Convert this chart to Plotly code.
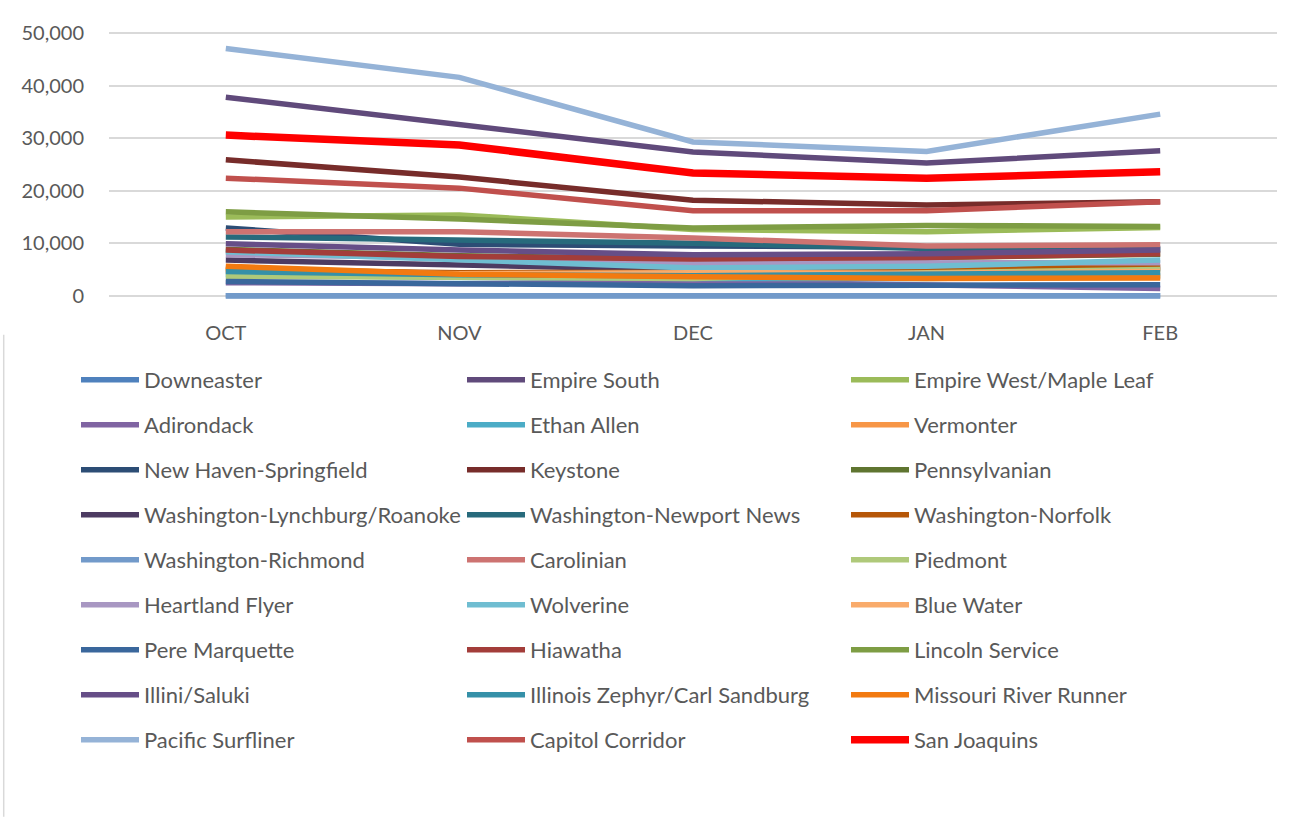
import plotly.graph_objects as go

months = ["OCT", "NOV", "DEC", "JAN", "FEB"]

series_names = [
    "Downeaster", "Empire South", "Empire West/Maple Leaf",
    "Adirondack", "Ethan Allen", "Vermonter",
    "New Haven-Springfield", "Keystone", "Pennsylvanian",
    "Washington-Lynchburg/Roanoke", "Washington-Newport News", "Washington-Norfolk",
    "Washington-Richmond", "Carolinian", "Piedmont",
    "Heartland Flyer", "Wolverine", "Blue Water",
    "Pere Marquette", "Hiawatha", "Lincoln Service",
    "Illini/Saluki", "Illinois Zephyr/Carl Sandburg", "Missouri River Runner",
    "Pacific Surfliner", "Capitol Corridor", "San Joaquins",
]

downeaster = [0, 0, 0, 0, 0]
empire_south = [37800, 32700, 27400, 25300, 27600]
empire_west = [15000, 15400, 12600, 12200, 13000]
adirondack = [2500, 2300, 2700, 2000, 1400]
ethan_allen = [4000, 3500, 3300, 3300, 3800]
vermonter = [5300, 4200, 3900, 3500, 3600]
new_haven = [12900, 9800, 9500, 9200, 9000]
keystone = [25900, 22600, 18200, 17300, 17900]
pennsylvanian = [8800, 7600, 7100, 7300, 7900]
wash_lynchburg = [6800, 5800, 4900, 4800, 5300]
wash_newport = [11200, 10600, 10000, 9000, 8800]
wash_norfolk = [5000, 4400, 4500, 5200, 5500]
wash_richmond = [0, 0, 0, 0, 0]
carolinian = [12200, 12200, 11000, 9500, 9700]
piedmont = [3700, 3600, 3300, 4400, 5000]
heartland = [7800, 7300, 6200, 6300, 6300]
wolverine = [8400, 6800, 5300, 5600, 6800]
blue_water = [4800, 4200, 4400, 4300, 4600]
pere_marquette = [2700, 2300, 1900, 2000, 2100]
hiawatha = [8700, 7500, 7000, 7300, 8000]
lincoln = [16000, 14600, 12900, 13400, 13200]
illini = [9900, 8700, 7800, 8000, 8700]
illinois_zephyr = [4600, 4000, 3800, 4000, 4400]
missouri = [5600, 4100, 3600, 3300, 3400]
pacific = [47100, 41600, 29300, 27500, 34600]
capitol = [22400, 20500, 16200, 16200, 17900]
san_joaquins = [30600, 28700, 23400, 22400, 23600]

series_values = [
    downeaster, empire_south, empire_west,
    adirondack, ethan_allen, vermonter,
    new_haven, keystone, pennsylvanian,
    wash_lynchburg, wash_newport, wash_norfolk,
    wash_richmond, carolinian, piedmont,
    heartland, wolverine, blue_water,
    pere_marquette, hiawatha, lincoln,
    illini, illinois_zephyr, missouri,
    pacific, capitol, san_joaquins,
]

colors = [
    "#4F81BD", "#604A7B", "#9BBB59",
    "#8064A2", "#4BACC6", "#F79646",
    "#2C4D75", "#772C2A", "#5F7530",
    "#4D3B62", "#276A7C", "#B65708",
    "#729ACA", "#CD7371", "#AFC97A",
    "#A897C2", "#6FBDD1", "#F9AB6B",
    "#3A679C", "#A33D3A", "#7E9D44",
    "#664E87", "#3590A8", "#F27A10",
    "#95B3D7", "#C0504D", "#FF0000",
]

widths = [5.5] * 26 + [7.5]

W, H = 1302, 818
fig = go.Figure()
legend_ids = ["legend", "legend2", "legend3"]
for i, (name, vals) in enumerate(zip(series_names, series_values)):
    fig.add_trace(go.Scatter(
        x=list(range(len(months))), y=vals, name=name, mode="lines",
        line=dict(color=colors[i], width=widths[i]),
        legend=legend_ids[i % 3], legendgroup=name,
        hoverinfo="x+y+name",
    ))

font_family = "Lato, 'Open Sans', sans-serif"
txt_color = "#595959"

# plot area: 0 -> y=296, 50000 -> y=33 ; x from 109.25 to 1276.75
px_per = (296 - 33) / 50000
ymin, ymax = -1000, 51000
top = 33 - (ymax - 50000) * px_per
bottom_px = 296 + (0 - ymin) * px_per
plot_l, plot_r = 109.25, 1276.75

legend_size = 22
item_h = legend_size * 1.3 + 3

legend_common = dict(
    orientation="v", xref="container", yref="container",
    yanchor="top", xanchor="left", y=1 - 359 / H,
    font=dict(family=font_family, size=legend_size, color=txt_color),
    bgcolor="rgba(0,0,0,0)", borderwidth=0,
    itemwidth=58, tracegroupgap=45 - item_h, traceorder="grouped",
)

fig.update_layout(
    width=W, height=H,
    margin=dict(l=plot_l, r=W - plot_r, t=top, b=H - bottom_px, pad=0, autoexpand=False),
    paper_bgcolor="white", plot_bgcolor="white",
    showlegend=True,
    legend=dict(x=76 / W, **legend_common),
    legend2=dict(x=462 / W, **legend_common),
    legend3=dict(x=846 / W, **legend_common),
    xaxis=dict(
        range=[-0.5, 4.5], tickmode="array", tickvals=list(range(len(months))), ticktext=months,
        showgrid=False, zeroline=False, showline=False,
        ticks="outside", ticklen=14, tickcolor="rgba(0,0,0,0)",
        tickfont=dict(family=font_family, size=20, color=txt_color),
        fixedrange=True,
    ),
    yaxis=dict(
        range=[ymin, ymax], tick0=0, dtick=10000, tickformat=",",
        showgrid=True, gridcolor="#D9D9D9", gridwidth=1.5,
        zeroline=False, showline=False,
        ticks="outside", ticklen=20, tickcolor="rgba(0,0,0,0)",
        tickfont=dict(family=font_family, size=20, color=txt_color),
        fixedrange=True,
    ),
    shapes=[dict(type="line", xref="paper", yref="paper",
                 x0=(4 - plot_l) / (plot_r - plot_l), x1=(4 - plot_l) / (plot_r - plot_l),
                 y0=(bottom_px - 335) / (bottom_px - top), y1=(bottom_px - 818) / (bottom_px - top),
                 line=dict(color="#D9D9D9", width=1.5))],
)

fig.write_html("out.html")
